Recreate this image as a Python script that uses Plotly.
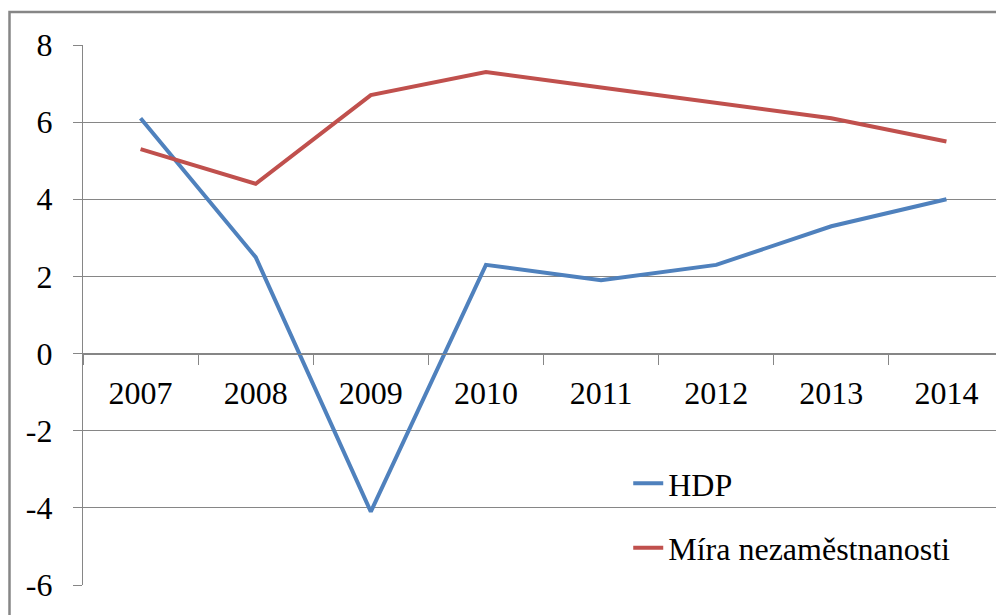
import plotly.graph_objects as go

years = ["2007", "2008", "2009", "2010", "2011", "2012", "2013", "2014"]
hdp = [6.1, 2.5, -4.1, 2.3, 1.9, 2.3, 3.3, 4.0]
nezam = [5.3, 4.4, 6.7, 7.3, 6.9, 6.5, 6.1, 5.5]
y_ticks = [-6, -4, -2, 0, 2, 4, 6, 8]
y_ticktext = [str(v) for v in y_ticks]

FONT = "Liberation Serif"
GRID = "#868686"
tf = dict(family=FONT, size=32, color="black")

# page has an 8px body margin; figure sized so it fills the window exactly
W, H = 996, 607
L, T, B, R = 75, 37, 30, 0
PW, PH = W - L - R, H - T - B

fig = go.Figure()
fig.add_trace(go.Scatter(x=years, y=hdp, mode="lines", name="HDP",
                         line=dict(color="#4F81BD", width=4), legendgroup="a"))
fig.add_trace(go.Scatter(x=years, y=nezam, mode="lines", name="Míra nezaměstnanosti",
                         line=dict(color="#C0504D", width=4), legendgroup="b"))

fig.update_layout(
    width=W, height=H,
    margin=dict(l=L, r=R, t=T, b=B, autoexpand=False),
    paper_bgcolor="white", plot_bgcolor="white",
    font=tf,
    showlegend=True,
    legend=dict(x=0.592, y=0.239, xanchor="left", yanchor="top",
                bgcolor="rgba(0,0,0,0)", tracegroupgap=20,
                traceorder="grouped", font=tf),
    xaxis=dict(type="category", range=[-0.5, 7.5], anchor="free", position=6/14,
               automargin=False,
               showline=True, linecolor=GRID, linewidth=1.3,
               ticks="outside", tickson="boundaries", ticklen=10, tickcolor=GRID,
               tickwidth=1.3, showgrid=False, ticklabelstandoff=11,
               tickfont=tf),
    yaxis=dict(range=[-6, 8], tickvals=y_ticks, ticktext=y_ticktext, automargin=False,
               showgrid=True, gridcolor=GRID,
               gridwidth=1.3, zeroline=False, showline=True, linecolor=GRID,
               linewidth=1.3, ticks="outside", ticklen=9, tickcolor=GRID,
               tickwidth=1.3, ticklabelstandoff=14, tickfont=tf),
    shapes=[dict(type="rect", xref="paper", yref="paper",
                 x0=(1.5 - L) / PW, x1=1.2, y0=-0.2, y1=(PH + T - 4) / PH,
                 line=dict(color=GRID, width=2.5), layer="below")],
)

fig.write_html("out.html")
